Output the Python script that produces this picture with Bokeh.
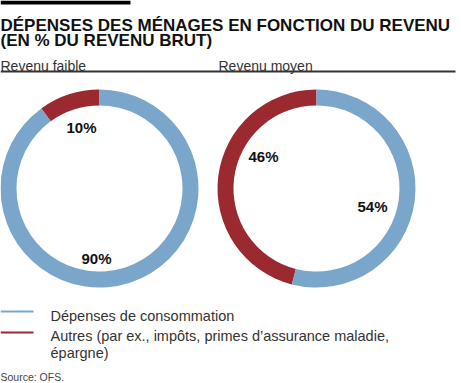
import math
from bokeh.plotting import figure
from bokeh.models import Range1d
from bokeh.core.properties import value
from bokeh.embed import file_html
from bokeh.resources import INLINE

# ---- data ----
title_lines = ["DÉPENSES DES MÉNAGES EN FONCTION DU REVENU", "(EN % DU REVENU BRUT)"]
groups = ["Revenu faible", "Revenu moyen"]
series = ["Dépenses de consommation",
          "Autres (par ex., impôts, primes d’assurance maladie,\népargne)"]
consommation = [90, 54]
autres = [10, 46]
source_text = "Source: OFS."

# ---- style / layout ----
BLUE = "#7ba6cc"
RED = "#9b2a30"
FONT = value("Liberation Sans")
W, H = 461, 383

def Y(r):  # reference screen y -> data y
    return H - r

p = figure(width=W, height=H, x_range=Range1d(0, W), y_range=Range1d(0, H),
           output_backend="svg", toolbar_location=None, min_border=0,
           x_axis_location=None, y_axis_location=None)
p.grid.visible = False
p.outline_line_color = None
p.background_fill_color = "white"
p.border_fill_color = "white"

# top black bar and title
p.quad(left=[0], right=[130], top=[Y(0)], bottom=[Y(4)], fill_color="black", line_color=None)
p.text(x=[0, 0], y=[Y(25), Y(40)], text=title_lines, text_font=FONT,
       text_font_size="17px", text_font_style="bold", text_color="#111111",
       text_align="left", text_baseline="alphabetic")

# group labels and rule
centers_x = [99, 316]
center_y = 188
p.text(x=[0, 218], y=[Y(65), Y(65)], text=groups, text_font=FONT,
       text_font_size="14px", text_color="#333333", text_align="left",
       text_baseline="alphabetic")
p.segment(x0=[0], y0=[Y(71)], x1=[455], y1=[Y(71)], line_color="#333333", line_width=2)

# donuts
R_OUT, R_IN = 99, 83
label_offsets = [[(-18, 61), (-3, -70)], [(-53, 32), (56, -18)]]
for i in range(len(groups)):
    cx, cy = centers_x[i], Y(center_y)
    a0 = math.pi / 2
    a1 = a0 + 2 * math.pi * autres[i] / 100.0
    a2 = a1 + 2 * math.pi * consommation[i] / 100.0
    p.annular_wedge(x=[cx], y=[cy], inner_radius=R_IN, outer_radius=R_OUT,
                    start_angle=[a0], end_angle=[a1], direction="anticlock",
                    fill_color=RED, line_color=None)
    p.annular_wedge(x=[cx], y=[cy], inner_radius=R_IN, outer_radius=R_OUT,
                    start_angle=[a1], end_angle=[a2], direction="anticlock",
                    fill_color=BLUE, line_color=None)
    vals = [autres[i], consommation[i]]
    xs = [cx + label_offsets[i][k][0] for k in range(2)]
    ys = [cy + label_offsets[i][k][1] for k in range(2)]
    p.text(x=xs, y=ys, text=[f"{v}%" for v in vals], text_font=FONT,
           text_font_size="15px", text_font_style="bold", text_color="#111111",
           text_align="center", text_baseline="middle")

# legend
p.segment(x0=[0, 0], y0=[Y(311), Y(332)], x1=[33, 33], y1=[Y(311), Y(332)],
          line_color=[BLUE, RED], line_width=2)
leg_lines = series[0].split("\n") + series[1].split("\n")
leg_base = [315, 335, 352]
p.text(x=[50] * len(leg_lines), y=[Y(b) for b in leg_base], text=leg_lines,
       text_font=FONT, text_font_size="14.5px", text_color="#333333",
       text_align="left", text_baseline="alphabetic")

# source
p.text(x=[0], y=[Y(376)], text=[source_text], text_font=FONT,
       text_font_size="10.5px", text_color="#444444", text_align="left",
       text_baseline="alphabetic")

open("out.html", "w").write(file_html(p, INLINE))
